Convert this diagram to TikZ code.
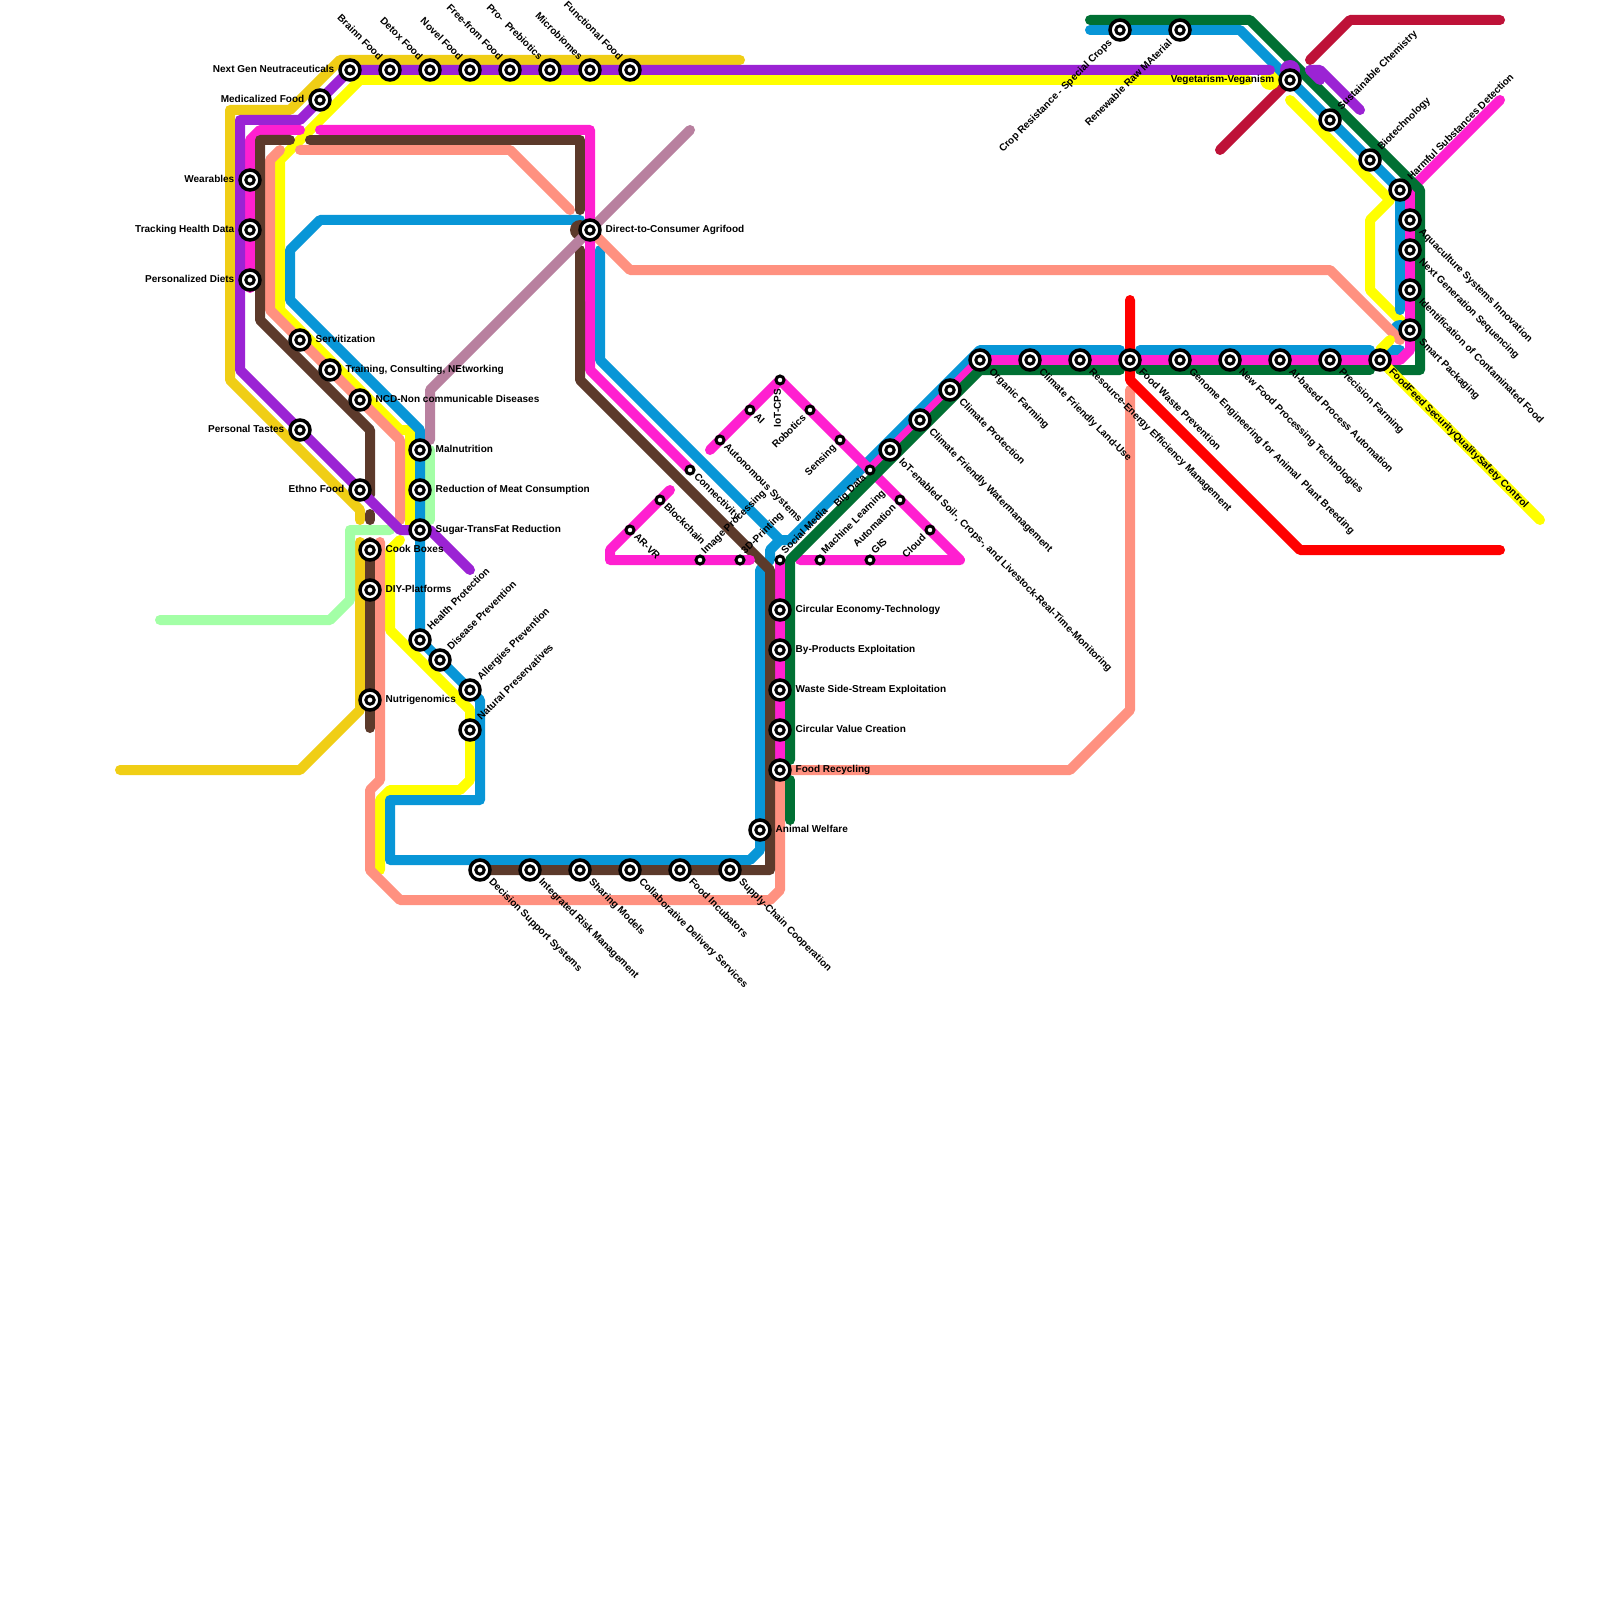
\documentclass[tikz,border=0pt]{standalone}
\usepackage{fontspec}
\setmainfont{Liberation Sans}
\usetikzlibrary{backgrounds}
\definecolor{goldcol}{HTML}{F0CE15}
\definecolor{purplecol}{HTML}{9B23D4}
\definecolor{magentacol}{HTML}{FF20D0}
\definecolor{browncol}{HTML}{5C3A2B}
\definecolor{salmoncol}{HTML}{FF9180}
\definecolor{yellowcol}{HTML}{FFFF00}
\definecolor{bluecol}{HTML}{0896D7}
\definecolor{greencol}{HTML}{007033}
\definecolor{mintcol}{HTML}{A3FFA6}
\definecolor{mauvecol}{HTML}{B8809F}
\definecolor{crimsoncol}{HTML}{BE1238}
\definecolor{redcol}{HTML}{FF0000}
\tikzstyle{route} = [line width=1mm, line cap=round, line join=round]
\tikzstyle{bigstop} = [circle, draw=black, fill=white, line width=0.35mm, minimum size=2mm, inner sep=0pt, path picture={\draw[black, line width=0.3mm] (path picture bounding box.center) circle (0.42);}]
\tikzstyle{smallstop} = [circle, draw=black, fill=white, line width=0.3mm, minimum size=0.8mm, inner sep=0pt]
\tikzstyle{tag} = [inner sep=0pt, text=black, font=\fontsize{2.85}{3.4}\selectfont\bfseries, text height=2.05pt, text depth=0.45pt]
\tikzstyle{tagleft} = [tag, xshift=-1.5mm, anchor=east]
\tikzstyle{tagright} = [tag, xshift=1.5mm, anchor=west]
\tikzstyle{tagse} = [tag, xshift=1mm, yshift=-1mm, rotate=-45, anchor=west]
\tikzstyle{tagne} = [tag, xshift=0.9mm, yshift=1.1mm, rotate=45, anchor=west]
\tikzstyle{tagnw} = [tag, xshift=-0.9mm, yshift=1.1mm, rotate=-45, anchor=east]
\tikzstyle{tagsw} = [tag, xshift=-0.9mm, yshift=-1.1mm, rotate=45, anchor=east]
\tikzstyle{tinyse} = [tag, xshift=0.5mm, yshift=-0.5mm, rotate=-45, anchor=west]
\tikzstyle{tinyne} = [tag, xshift=0.3mm, yshift=0.7mm, rotate=45, anchor=west]
\tikzstyle{tinysw} = [tag, xshift=-0.5mm, yshift=-0.6mm, rotate=45, anchor=east]
\begin{document}
\begin{tikzpicture}[x=1mm, y=-1mm]
\useasboundingbox (0,0) rectangle (160,160);

% Top row
\node (nextgen) [bigstop] at (35,7) {}; \node (nextgenlab) [tagleft] at (nextgen) {Next Gen Neutraceuticals};
\node (brainn) [bigstop] at (39,7) {}; \node (brainnlab) [tagnw] at (brainn) {Brainn Food};
\node (detox) [bigstop] at (43,7) {}; \node (detoxlab) [tagnw] at (detox) {Detox Food};
\node (novel) [bigstop] at (47,7) {}; \node (novellab) [tagnw] at (novel) {Novel Food};
\node (freefrom) [bigstop] at (51,7) {}; \node (freefromlab) [tagnw] at (freefrom) {Free-from Food};
\node (prebiotics) [bigstop] at (55,7) {}; \node (prebioticslab) [tagnw] at (prebiotics) {Pro-\ \ Prebiotics};
\node (microbiomes) [bigstop] at (59,7) {}; \node (microbiomeslab) [tagnw] at (microbiomes) {Microbiomes};
\node (functional) [bigstop] at (63,7) {}; \node (functionallab) [tagnw] at (functional) {Functional Food};
\node (medicalized) [bigstop] at (32,10) {}; \node (medicalizedlab) [tagleft] at (medicalized) {Medicalized Food};

% Left side
\node (wearables) [bigstop] at (25,18) {}; \node (wearableslab) [tagleft] at (wearables) {Wearables};
\node (tracking) [bigstop] at (25,23) {}; \node (trackinglab) [tagleft] at (tracking) {Tracking Health Data};
\node (diets) [bigstop] at (25,28) {}; \node (dietslab) [tagleft] at (diets) {Personalized Diets};
\node (servitization) [bigstop] at (30,34) {}; \node (servitizationlab) [tagright] at (servitization) {Servitization};
\node (training) [bigstop] at (33,37) {}; \node (traininglab) [tagright] at (training) {Training, Consulting, NEtworking};
\node (ncd) [bigstop] at (36,40) {}; \node (ncdlab) [tagright] at (ncd) {NCD-Non communicable Diseases};
\node (tastes) [bigstop] at (30,43) {}; \node (tasteslab) [tagleft] at (tastes) {Personal Tastes};
\node (ethno) [bigstop] at (36,49) {}; \node (ethnolab) [tagleft] at (ethno) {Ethno Food};
\node (malnutrition) [bigstop] at (42,45) {}; \node (malnutritionlab) [tagright] at (malnutrition) {Malnutrition};
\node (meat) [bigstop] at (42,49) {}; \node (meatlab) [tagright] at (meat) {Reduction of Meat Consumption};
\node (sugar) [bigstop] at (42,53) {}; \node (sugarlab) [tagright] at (sugar) {Sugar-TransFat Reduction};
\node (cook) [bigstop] at (37,55) {}; \node (cooklab) [tagright] at (cook) {Cook Boxes};
\node (diy) [bigstop] at (37,59) {}; \node (diylab) [tagright] at (diy) {DIY-Platforms};
\node (nutri) [bigstop] at (37,70) {}; \node (nutrilab) [tagright] at (nutri) {Nutrigenomics};
\node (health) [bigstop] at (42,64) {}; \node (healthlab) [tagne] at (health) {Health Protection};
\node (disease) [bigstop] at (44,66) {}; \node (diseaselab) [tagne] at (disease) {Disease Prevention};
\node (allergies) [bigstop] at (47,69) {}; \node (allergieslab) [tagne] at (allergies) {Allergies Prevention};
\node (natural) [bigstop] at (47,73) {}; \node (naturallab) [tagne] at (natural) {Natural Preservatives};
\node (direct) [bigstop] at (59,23) {}; \node (directlab) [tagright] at (direct) {Direct-to-Consumer Agrifood};

% Bottom row
\node (decision) [bigstop] at (48,87) {}; \node (decisionlab) [tagse] at (decision) {Decision Support Systems};
\node (risk) [bigstop] at (53,87) {}; \node (risklab) [tagse] at (risk) {Integrated Risk Management};
\node (sharing) [bigstop] at (58,87) {}; \node (sharinglab) [tagse] at (sharing) {Sharing Models};
\node (delivery) [bigstop] at (63,87) {}; \node (deliverylab) [tagse] at (delivery) {Collaborative Delivery Services};
\node (incubators) [bigstop] at (68,87) {}; \node (incubatorslab) [tagse] at (incubators) {Food Incubators};
\node (supply) [bigstop] at (73,87) {}; \node (supplylab) [tagse] at (supply) {Supply-Chain Cooperation};
\node (welfare) [bigstop] at (76,83) {}; \node (welfarelab) [tagright] at (welfare) {Animal Welfare};

% Middle column
\node (economy) [bigstop] at (78,61) {}; \node (economylab) [tagright] at (economy) {Circular Economy-Technology};
\node (byproducts) [bigstop] at (78,65) {}; \node (byproductslab) [tagright] at (byproducts) {By-Products Exploitation};
\node (sidestream) [bigstop] at (78,69) {}; \node (sidestreamlab) [tagright] at (sidestream) {Waste Side-Stream Exploitation};
\node (circular) [bigstop] at (78,73) {}; \node (circularlab) [tagright] at (circular) {Circular Value Creation};
\node (recycling) [bigstop] at (78,77) {}; \node (recyclinglab) [tagright] at (recycling) {Food Recycling};

% Small stops
\node (iotcps) [smallstop] at (78,38) {}; \node (iotcpslab) [tag, xshift=-0.2mm, yshift=-0.8mm, rotate=90, anchor=east] at (iotcps) {IoT-CPS};
\node (ai) [smallstop] at (75,41) {}; \node (ailab) [tinyse] at (ai) {AI};
\node (autonomous) [smallstop] at (72,44) {}; \node (autonomouslab) [tinyse] at (autonomous) {Autonomous Systems};
\node (robotics) [smallstop] at (81,41) {}; \node (roboticslab) [tinysw] at (robotics) {Robotics};
\node (sensing) [smallstop] at (84,44) {}; \node (sensinglab) [tinysw] at (sensing) {Sensing};
\node (bigdata) [smallstop] at (87,47) {}; \node (bigdatalab) [tinysw] at (bigdata) {Big Data};
\node (automation) [smallstop] at (90,50) {}; \node (automationlab) [tinysw] at (automation) {Automation};
\node (cloud) [smallstop] at (93,53) {}; \node (cloudlab) [tinysw] at (cloud) {Cloud};
\node (connectivity) [smallstop] at (69,47) {}; \node (connectivitylab) [tinyse] at (connectivity) {Connectivity};
\node (blockchain) [smallstop] at (66,50) {}; \node (blockchainlab) [tinyse] at (blockchain) {Blockchain};
\node (arvr) [smallstop] at (63,53) {}; \node (arvrlab) [tinyse] at (arvr) {AR-VR};
\node (image) [smallstop] at (70,56) {}; \node (imagelab) [tinyne] at (image) {Image Processing};
\node (printing) [smallstop] at (74,56) {}; \node (printinglab) [tinyne] at (printing) {3D-Printing};
\node (social) [smallstop] at (78,56) {}; \node (sociallab) [tinyne] at (social) {Social Media};
\node (machine) [smallstop] at (82,56) {}; \node (machinelab) [tinyne] at (machine) {Machine Learning};
\node (gis) [smallstop] at (87,56) {}; \node (gislab) [tinyne] at (gis) {GIS};

% Long diagonal
\node (iotsoil) [bigstop] at (89,45) {}; \node (iotsoillab) [tagse] at (iotsoil) {IoT-enabled Soil-, Crops-, and Livestock-Real-Time-Monitoring};
\node (water) [bigstop] at (92,42) {}; \node (waterlab) [tagse] at (water) {Climate Friendly Watermanagement};
\node (protection) [bigstop] at (95,39) {}; \node (protectionlab) [tagse] at (protection) {Climate Protection};

% Horizontal row
\node (organic) [bigstop] at (98,36) {}; \node (organiclab) [tagse] at (organic) {Organic Farming};
\node (landuse) [bigstop] at (103,36) {}; \node (landuselab) [tagse] at (landuse) {Climate Friendly Land-Use};
\node (resource) [bigstop] at (108,36) {}; \node (resourcelab) [tagse] at (resource) {Resource-Energy Efficiency Management};
\node (waste) [bigstop] at (113,36) {}; \node (wastelab) [tagse] at (waste) {Food Waste Prevention};
\node (genome) [bigstop] at (118,36) {}; \node (genomelab) [tagse] at (genome) {Genome Engineering for Animal\ \ Plant Breeding};
\node (newfood) [bigstop] at (123,36) {}; \node (newfoodlab) [tagse] at (newfood) {New Food Processing Technologies};
\node (aibased) [bigstop] at (128,36) {}; \node (aibasedlab) [tagse] at (aibased) {AI-based Process Automation};
\node (precision) [bigstop] at (133,36) {}; \node (precisionlab) [tagse] at (precision) {Precision Farming};
\node (security) [bigstop] at (138,36) {}; \node (securitylab) [tagse] at (security) {FoodFeed SecurityQualitySafety Control};

% Right side
\node (packaging) [bigstop] at (141,33) {}; \node (packaginglab) [tagse] at (packaging) {Smart Packaging};
\node (contaminated) [bigstop] at (141,29) {}; \node (contaminatedlab) [tagse] at (contaminated) {Identification of Contaminated Food};
\node (sequencing) [bigstop] at (141,25) {}; \node (sequencinglab) [tagse] at (sequencing) {Next Generation Sequencing};
\node (aquaculture) [bigstop] at (141,22) {}; \node (aquaculturelab) [tagse] at (aquaculture) {Aquaculture Systems Innovation};
\node (harmful) [bigstop] at (140,19) {}; \node (harmfullab) [tagne] at (harmful) {Harmful Substances Detection};
\node (biotech) [bigstop] at (137,16) {}; \node (biotechlab) [tagne] at (biotech) {Biotechnology};
\node (chemistry) [bigstop] at (133,12) {}; \node (chemistrylab) [tagne] at (chemistry) {Sustainable Chemistry};
\node (vegan) [bigstop] at (129,8) {}; \node (veganlab) [tagleft] at (vegan) {Vegetarism-Veganism};
\node (rawmaterial) [bigstop] at (118,3) {}; \node (rawmateriallab) [tagsw] at (rawmaterial) {Renewable Raw MAterial};
\node (crops) [bigstop] at (112,3) {}; \node (cropslab) [tagsw] at (crops) {Crop Resistance - Special Crops};

\begin{pgfonlayer}{background}
\fill[white] (0,0) rectangle (160,160);
% Gold and mint
\draw[route, goldcol] (74,6) -- (34,6) -- (29,11) -- (23,11) -- (23,38) -- (36,51) -- (36,52);
\draw[route, goldcol] (12,77) -- (30,77) -- (36,71) -- (36,54.2);
\draw[route, mintcol] (16,62) -- (33,62) -- (35,60) -- (35,53) -- (39,53);
\draw[route, mintcol] (43,45) -- (43,52);
\draw[route, crimsoncol] (122,15) -- (vegan.center);
\draw[route, crimsoncol] (131,6) -- (135,2) -- (150,2);

% Yellow lines
\draw[route, yellowcol] (124.8,8) -- (36,8) -- (28,16) -- (28,31) -- (40,43) -- (41,43) -- (41,53);
\fill[yellowcol] (127,8) circle (1);
\draw[route, yellowcol] (129,10) -- (139,20) -- (137,22) -- (137,29) -- (packaging.center);
\draw[route, yellowcol] (40,54) -- (39,55) -- (39,63) -- (47,71) -- (47,78) -- (46,79) -- (39,79) -- (38,80) -- (38,87);

% Magenta under the blue
\draw[route, magentacol] (25,28.8) -- (25,14) -- (26,13) -- (30,13);
\draw[route, magentacol] (32,13) -- (59,13) -- (59,37) -- (connectivity.center);
\draw[route, magentacol] (social.center) -- (recycling.center);

% Blue lines
\draw[route, bluecol] (58,22) -- (32,22) -- (29,25) -- (29,30) -- (42,43) -- (health.center) -- (48,70) -- (48,80) -- (39,80) -- (39,86) -- (75,86) -- (76,85) -- (76,57) -- (77,56) -- (77,55) -- (78,54) -- (79,54) -- (98,35) -- (112,35);
\draw[route, bluecol] (60,25) -- (60,36) -- (78,54);
\draw[route, bluecol] (114,35) -- (137,35);
\draw[route, bluecol] (109,3) -- (124,3) -- (140,19) -- (140,31);
\draw[route, bluecol] (139,35) -- (140,35);
\fill[bluecol] (140,33) circle (1);

% Salmon lines
\draw[route, salmoncol] (28,15) -- (27,16) -- (27,31) -- (40,44) -- (40,52);
\draw[route, salmoncol] (38,54.2) -- (38,78) -- (37,79) -- (37,87) -- (40,90) -- (77,90) -- (78,89) -- (recycling.center) -- (107,77) -- (113,71) -- (113,39);
\draw[route, salmoncol] (30,15) -- (51,15) -- (57,21);
\draw[route, salmoncol] (direct.center) -- (63,27) -- (133,27) -- (140,34);

% Brown and mauve
\draw[route, browncol] (29,14) -- (26,14) -- (26,32) -- (37,43) -- (37,49.5);
\draw[route, browncol] (37,51.4) -- (37,52);
\draw[route, browncol] (37,54.2) -- (37,72.8);
\draw[route, browncol] (31,14) -- (58,14) -- (58,21);
\fill[browncol] (58,23) circle (1);
\draw[route, browncol] (58,25) -- (58,38) -- (77,57) -- (77,87) -- (decision.center);
\draw[route, mauvecol] (69,13) -- (43,39) -- (43,44);

% Magenta over the blue
\draw[route, magentacol] (59,20) -- (59,30);
\draw[route, magentacol] (150,10) -- (141,19) -- (141,35) -- (140,36) -- (organic.center) -- (bigdata.center);
\draw[route, magentacol] (71,45) -- (iotcps.center) -- (96,56) -- (80,56);
\draw[route, magentacol] (67,49) -- (61,55) -- (61,56) -- (75,56);

% Green lines
\draw[route, greencol] (79,76) -- (79,56) -- (98,37) -- (112,37);
\draw[route, greencol] (79,78) -- (79,82);
\draw[route, greencol] (114,37) -- (137,37);
\draw[route, greencol] (139,37) -- (142,37) -- (142,19) -- (125,2) -- (109,2);

% Purple and red on top
\draw[route, purplecol] (127,7) -- (nextgen.center) -- (30,12) -- (24,12) -- (24,37) -- (40,53) -- (43,53) -- (47,57);
\fill[purplecol] (129,7) circle (1);
\draw[route, purplecol] (131,7) -- (132,7) -- (136,11);
\draw[route, purplecol] (131,7) -- (132,8);
\draw[route, redcol] (113,30) -- (113,38) -- (130,55) -- (150,55);
\draw[route, yellowcol] (139,34) -- (138,35) -- (security.center) -- (154,52);
\end{pgfonlayer}

\end{tikzpicture}
\end{document}
